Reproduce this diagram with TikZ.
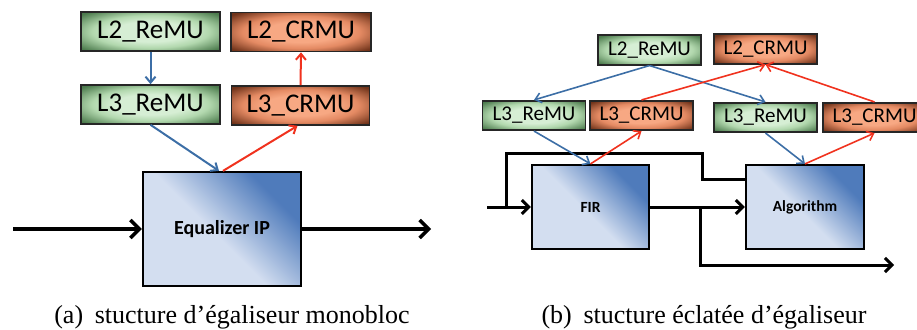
\documentclass[tikz,border=0pt]{standalone}
\usepackage{fontspec}
\newfontfamily\timesfont{Liberation Serif}
\newfontfamily\calibri{Carlito}
\usetikzlibrary{arrows.meta}
\definecolor{remuL}{HTML}{D6EED4}
\definecolor{remuM}{HTML}{B2D8AE}
\definecolor{remuD}{HTML}{4C7B4D}
\definecolor{crmuL}{HTML}{F7A883}
\definecolor{crmuM}{HTML}{E48A63}
\definecolor{crmuD}{HTML}{70331A}
\definecolor{ipL}{HTML}{D3DEF0}
\definecolor{ipD}{HTML}{4F7BBB}
\definecolor{cfgblue}{HTML}{3C6EA6}
\definecolor{cfgred}{HTML}{F0321E}
% the path is mapped onto the central 50bp square of a shading
\pgfdeclareradialshading{remuglow}{\pgfpoint{0bp}{0bp}}{color(0bp)=(remuL); color(13bp)=(remuL); color(21bp)=(remuM); color(33bp)=(remuD); color(50bp)=(remuD)}
\pgfdeclareradialshading{crmuglow}{\pgfpoint{0bp}{0bp}}{color(0bp)=(crmuL); color(13bp)=(crmuL); color(21bp)=(crmuM); color(33bp)=(crmuD); color(50bp)=(crmuD)}
\pgfdeclareverticalshading{ipgrad}{100bp}{color(0bp)=(ipL); color(47bp)=(ipL); color(72bp)=(ipD); color(100bp)=(ipD)}
\tikzset{
  unit/.style={draw=black!85, line width=1.6pt, inner sep=0pt},
  remu/.style={unit, shading=remuglow},
  crmu/.style={unit, shading=crmuglow},
  ipbox/.style={draw=black, line width=2.2pt, shading=ipgrad, shading angle=-45},
  big/.style={font=\calibri\fontsize{27}{27}\selectfont, minimum height=39pt},
  small/.style={font=\calibri\fontsize{21}{21}\selectfont, minimum height=29.5pt, minimum width=103pt},
  cfg/.style={draw=cfgblue, line width=#1, -{Straight Barb[length=6pt,width=10pt]}},
  rep/.style={draw=cfgred, line width=#1, -{Straight Barb[length=6pt,width=10pt]}},
  sig/.style={draw=black, line width=#1, line join=miter},
  caption/.style={anchor=base, font=\timesfont\fontsize{26}{28}\selectfont}
}
\begin{document}
\begin{tikzpicture}[x=1pt, y=-1pt]
  \useasboundingbox (0,0) rectangle (917,329);
  % (a) monobloc
  \node[remu, big, minimum width=139pt] (remuTwoA) at (150.5,31.5) {L2\_ReMU};
  \node[crmu, big, minimum width=140pt] (crmuTwoA) at (301,32) {L2\_CRMU};
  \node[remu, big, minimum width=139pt] (remuThreeA) at (150.5,104.5) {L3\_ReMU};
  \node[crmu, big, minimum width=138pt] (crmuThreeA) at (300.5,105.5) {L3\_CRMU};
  \node[ipbox, minimum width=158pt, minimum height=114pt, font=\calibri\bfseries\fontsize{20}{20}\selectfont] (eqip) at (222,229) {Equalizer IP};
  \coordinate (inA) at (13,229);
  \coordinate (outA) at (431,229);
  \draw[sig=3.5pt, -{Straight Barb[length=9pt,width=18pt]}] (inA) -- (eqip.west);
  \draw[sig=3.5pt, -{Straight Barb[length=9pt,width=18pt]}] (eqip.east) -- (outA);
  \draw[cfg=2pt] (remuTwoA.south) -- (remuThreeA.north);
  \draw[rep=2pt] (crmuThreeA.north) -- (crmuTwoA.south);
  \draw[cfg=2pt] (remuThreeA.south) -- ([xshift=-3pt]eqip.north);
  \draw[rep=2pt] ([xshift=1pt]eqip.north) -- ([xshift=-3pt]crmuThreeA.south);
  \node[caption] (capA) at (232,323) {(a)\hspace{0.45em}stucture d’égaliseur monobloc};
  % (b) eclatee
  \node[remu, small] (remuTwoB) at (649.5,50) {L2\_ReMU};
  \node[crmu, small] (crmuTwoB) at (765.5,49) {L2\_CRMU};
  \node[remu, small] (remuThreeB) at (534,115.5) {L3\_ReMU};
  \node[crmu, small] (crmuThreeB) at (641.5,115.5) {L3\_CRMU};
  \node[remu, small] (remuThreeC) at (765.5,117.5) {L3\_ReMU};
  \node[crmu, small] (crmuThreeC) at (874.5,117.5) {L3\_CRMU};
  \node[ipbox, minimum width=117pt, minimum height=84pt, font=\calibri\bfseries\fontsize{15.5}{15.5}\selectfont] (fir) at (590.5,207) {FIR};
  \node[ipbox, minimum width=118pt, minimum height=84pt, font=\calibri\bfseries\fontsize{15.5}{15.5}\selectfont] (algo) at (805,207) {Algorithm};
  \coordinate (inB) at (487,207);
  \coordinate (tapIn) at (506,207);
  \coordinate (tapOut) at (700,207);
  \coordinate (outB) at (894,265);
  \draw[sig=3pt, -{Straight Barb[length=7pt,width=14pt]}] (inB) -- (fir.west);
  \draw[sig=3pt] (tapIn) |- (702,153) |- ([yshift=28pt]algo.west);
  \draw[sig=3pt, -{Straight Barb[length=7pt,width=14pt]}] (fir.east) -- (algo.west);
  \draw[sig=3pt, -{Straight Barb[length=7pt,width=14pt]}] (tapOut) |- (outB);
  \draw[cfg=1.6pt] (remuTwoB.south) -- (remuThreeB.north);
  \draw[cfg=1.6pt] (remuTwoB.south) -- (remuThreeC.north);
  \draw[rep=1.6pt] (crmuThreeB.north) -- (crmuTwoB.south);
  \draw[rep=1.6pt] (crmuThreeC.north) -- (crmuTwoB.south);
  \draw[cfg=1.6pt] (remuThreeB.south) -- (fir.north);
  \draw[rep=1.6pt] (fir.north) -- (crmuThreeB.south);
  \draw[cfg=1.6pt] (remuThreeC.south) -- (algo.north);
  \draw[rep=1.6pt] (algo.north) -- (crmuThreeC.south);
  \node[caption] (capB) at (704,323) {(b)\hspace{0.45em}stucture éclatée d’égaliseur};
\end{tikzpicture}
\end{document}
